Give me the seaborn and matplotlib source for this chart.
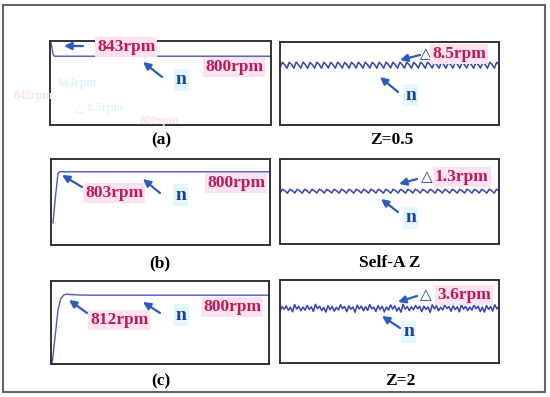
import matplotlib.pyplot as plt
import seaborn as sns
import pandas as pd
import numpy as np
from matplotlib.patches import Rectangle

# left column: start-up speed n (rpm) against time (s)
t_a = [0.0, 0.005, 0.014, 0.02, 1.0]
n_a = [850, 843, 806, 800, 800]
t_b = [0.009, 0.02, 0.032, 0.041, 0.05, 0.08, 1.0]
n_b = [240, 520, 785, 803, 801, 800, 800]
t_c = [0.005, 0.018, 0.032, 0.045, 0.06, 0.073, 0.09, 0.13, 0.2, 1.0]
n_c = [0, 300, 628, 760, 805, 812, 808, 802, 800, 800]

# right column: steady-state ripple around 800 rpm (deviation, rpm)
dev_z05 = [
    -4.1, 4.2, 0.9, -4.3, 4.1, 1.2, -4.0, 4.3, 0.7, -4.2, 4.2, 1.0,
    -4.3, 4.0, 0.8, -4.1, 4.3, 1.1, -4.2, 4.1, 0.9, -4.0, 4.2, 0.6,
    -4.2, 4.3, 1.0, -4.1, 4.0, 0.8, -4.3, 4.2, 1.2, -4.0, 4.1, 0.9,
    -4.2, 4.3, 0.7, -4.1, 4.2, 1.0, -4.3, 4.1, 0.8, -4.2, 4.3, 1.1,
    -4.0, 4.2, 0.9, -4.3, 4.0, 0.7, -4.1, 4.3, 1.0, -4.2, 4.1, 0.8,
    -4.1, 4.2, 1.2, -4.3, 4.3, 0.9, -4.0, 4.1, 0.6, -4.2, 4.2, 1.0,
    -4.3, 4.0, 0.8, -4.1, 4.3, 1.1, -4.2, 4.2, 0.9, -4.0, 4.1, 0.7,
    -4.2, 4.3, 1.0, -4.1, 4.2, 0.8, -4.3, 4.1, 1.1, -4.2, 4.2, 0.9,
]
dev_self = [
    -0.62, 0.65, 0.12, -0.65, 0.60, 0.18, -0.60, 0.64, 0.10, -0.64, 0.62, 0.15,
    -0.65, 0.61, 0.12, -0.61, 0.65, 0.17, -0.63, 0.62, 0.11, -0.60, 0.64, 0.14,
    -0.64, 0.65, 0.16, -0.62, 0.60, 0.12, -0.65, 0.63, 0.18, -0.61, 0.62, 0.10,
    -0.63, 0.65, 0.13, -0.62, 0.64, 0.15, -0.65, 0.61, 0.12, -0.64, 0.65, 0.17,
    -0.60, 0.63, 0.11, -0.65, 0.62, 0.14, -0.62, 0.65, 0.16, -0.63, 0.61, 0.12,
    -0.61, 0.64, 0.18, -0.65, 0.65, 0.13, -0.60, 0.62, 0.10, -0.64, 0.63, 0.15,
    -0.65, 0.60, 0.12, -0.62, 0.65, 0.17, -0.63, 0.64, 0.14, -0.61, 0.62, 0.11,
    -0.64, 0.65, 0.15, -0.62, 0.63, 0.12,
]
dev_z2 = [
    -1.2, 0.8, -0.4, 1.1, -0.9, 0.5, -1.6, 1.7, -0.3, 0.9, -1.1, 0.6,
    -0.8, 1.3, -0.5, 0.7, -1.4, 1.8, -0.2, 1.0, -1.0, 0.4, -1.7, 1.2,
    -0.6, 0.9, -1.3, 0.5, -0.7, 1.6, -0.1, 0.8, -1.5, 1.1, -0.4, 0.6,
    -1.8, 1.4, -0.3, 1.0, -1.1, 0.7, -0.9, 1.7, -0.2, 0.5, -1.4, 1.2,
    -0.5, 0.9, -1.6, 0.6, -0.8, 1.5, -0.3, 1.1, -1.2, 0.4, -1.7, 1.8,
    -0.4, 0.8, -1.0, 0.7, -0.6, 1.3, -0.2, 0.9, -1.5, 1.0, -0.5, 0.6,
    -1.8, 1.6, -0.3, 1.2, -1.1, 0.5, -0.7, 1.4, -0.1, 0.8, -1.3, 1.1,
    -0.6, 0.7, -1.6, 1.7, -0.4, 0.9, -1.0, 0.6, -0.8, 1.5, -0.2, 1.0,
    -1.4, 0.5, -1.7, 1.3, -0.5, 0.8, -1.2, 1.6, -0.3, 0.9,
]
n_ref = 800

W, H = 550, 397
blue_line = "#4b58c4"
ripple_col = "#3442b4"
arrow_col = "#2b5cbc"
pink_txt = "#c0175a"
pink_bg = "#fde3f0"
n_col = "#1f3fa3"
n_bg = "#e3f8fd"

sns.set_style("white")
plt.rcParams["font.family"] = ["Liberation Serif", "DejaVu Sans"]
plt.rcParams["font.weight"] = "bold"

fig = plt.figure(figsize=(5.5, 3.97), dpi=100)


def fx(px):
    return px / W


def fy(py):
    return 1 - py / H


def panel(x0, y0, x1, y1):
    ax = fig.add_axes([fx(x0), fy(y1), (x1 - x0) / W, (y1 - y0) / H])
    for s in ax.spines.values():
        s.set_color("#333333")
        s.set_linewidth(1.4)
    return ax


def tidy(ax):
    ax.set_xticks([])
    ax.set_yticks([])
    ax.set_xlabel("")
    ax.set_ylabel("")


def label(x, y, s, color, bg, size=12.5, ha="left"):
    fig.text(fx(x), fy(y), s, color=color, fontsize=size, fontweight="bold",
             ha=ha, va="center",
             bbox=dict(boxstyle="square,pad=0.12", fc=bg, ec="none"))


def arrow(x0, y0, x1, y1):
    fig.add_artist(plt.Annotation("", xy=(fx(x1), fy(y1)), xytext=(fx(x0), fy(y0)),
                                  xycoords="figure fraction", textcoords="figure fraction",
                                  arrowprops=dict(arrowstyle="-|>", color=arrow_col, lw=1.6,
                                                  mutation_scale=11, shrinkA=0, shrinkB=0)))


def delta(x, y):
    fig.text(fx(x), fy(y), "\u25b3", color="#1f3f8f", fontsize=11,
             family=["DejaVu Sans"], ha="left", va="center")


# outer frame
fig.add_artist(Rectangle((fx(3), fy(392)), (545 - 3) / W, (392 - 5) / H,
                         transform=fig.transFigure, fill=False, ec="#666666", lw=1.5))

# left column
for (box, t, n, ylim) in [((50, 41, 271, 125), t_a, n_a, (574, 850)),
                          ((51, 159, 270, 245), t_b, n_b, (0, 940)),
                          ((51, 281, 269, 364), t_c, n_c, (0, 965))]:
    ax = panel(*box)
    sns.lineplot(data=pd.DataFrame({"t": t, "n": n}), x="t", y="n", ax=ax,
                 color=blue_line, lw=1.0)
    ax.set_xlim(0, 1)
    ax.set_ylim(*ylim)
    tidy(ax)

# right column
for (box, dev, ylim) in [((280, 42, 499, 125), dev_z05, (715, 833)),
                         ((280, 159, 499, 244), dev_self, (782.6, 810.6)),
                         ((280, 280, 499, 363), dev_z2, (775.5, 812.7))]:
    ax = panel(*box)
    df = pd.DataFrame({"k": np.arange(len(dev)), "n": [n_ref + d for d in dev]})
    sns.lineplot(data=df, x="k", y="n", ax=ax, color=ripple_col, lw=1.1)
    ax.set_xlim(0, len(dev) - 1)
    ax.set_ylim(*ylim)
    tidy(ax)

# faint ghost text in panel (a), as in the scanned original
for (x, y, s, c) in [(58, 83, "843rpm", "#d4f6fb"), (14, 96, "842rpm", "#fbe0ee"),
                     (75, 108, "\u25b3 8.5rpm", "#dcf7fb"), (140, 121, "800rpm", "#fbe3ef")]:
    fig.text(fx(x), fy(y), s, color=c, fontsize=8.5, fontweight="bold",
             ha="left", va="center", zorder=0)

# panel (a)
arrow(83, 46, 64, 46)
label(97, 47, "843rpm", pink_txt, pink_bg)
label(205, 67, "800rpm", pink_txt, pink_bg)
arrow(162, 77, 143, 62)
label(176, 80, "n", n_col, n_bg, size=14)
# Z=0.5
arrow(420, 55, 400, 60)
delta(420, 54)
label(432, 54, "8.5rpm", pink_txt, pink_bg)
arrow(398, 92, 380, 77)
label(405, 95, "n", n_col, n_bg, size=14)
# panel (b)
arrow(82, 187, 62, 175)
label(85, 193, "803rpm", pink_txt, pink_bg)
label(207, 183, "800rpm", pink_txt, pink_bg)
arrow(160, 193, 143, 179)
label(175, 195, "n", n_col, n_bg, size=14)
# Self-A Z
arrow(417, 179, 399, 184)
delta(421, 177)
label(435, 177, "1.3rpm", pink_txt, pink_bg)
arrow(398, 212, 381, 199)
label(405, 218, "n", n_col, n_bg, size=14)
# panel (c)
arrow(87, 313, 69, 300)
label(90, 320, "812rpm", pink_txt, pink_bg)
label(203, 307, "800rpm", pink_txt, pink_bg)
arrow(160, 313, 143, 302)
label(176, 315, "n", n_col, n_bg, size=14)
# Z=2
arrow(417, 296, 398, 302)
delta(420, 295)
label(437, 295, "3.6rpm", pink_txt, pink_bg)
arrow(400, 328, 382, 316)
label(403, 332, "n", n_col, n_bg, size=14)

# captions
for (x, y, s) in [(161, 140, "(a)"), (392, 140, "Z=0.5"),
                  (160, 263, "(b)"), (390, 263, "Self-A Z"),
                  (161, 381, "(c)"), (400, 381, "Z=2")]:
    fig.text(fx(x), fy(y), s, fontsize=12.5, fontweight="bold", color="black",
             ha="center", va="center")

fig.savefig("out.png", dpi=100)
